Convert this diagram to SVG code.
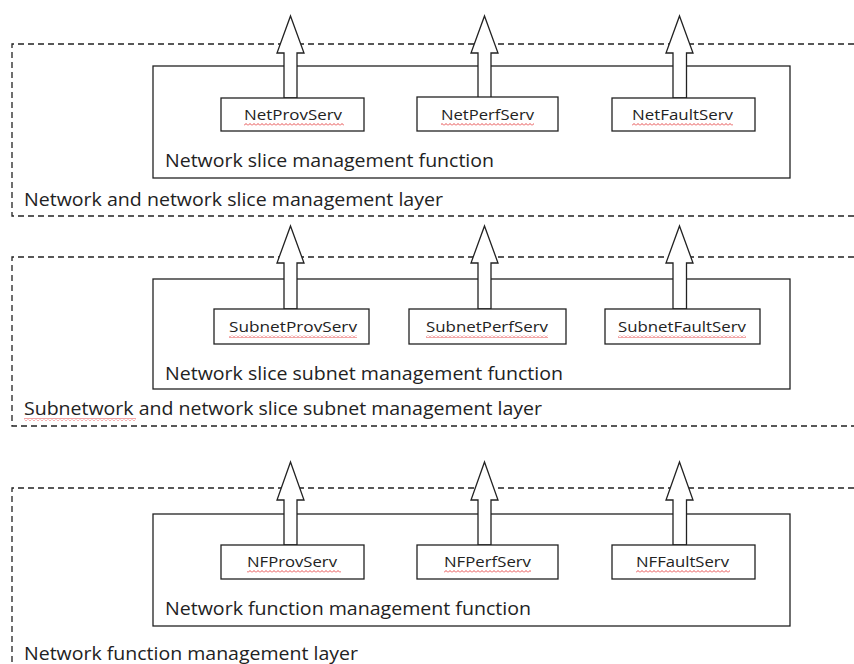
<svg xmlns="http://www.w3.org/2000/svg" width="854" height="664" viewBox="0 0 854 664">
<style>
.layer{fill:none;stroke:#222;stroke-width:1.3;stroke-dasharray:6 4}
.func{fill:#fff;stroke:#222;stroke-width:1.3}
.svc{fill:#fff;stroke:#222;stroke-width:1.3}
.arrow{fill:#fff;stroke:#222;stroke-width:1.3;stroke-linejoin:miter}
.big{font-family:"Open Sans","Noto Sans",sans-serif;font-size:17.5px;fill:#222}
.lbl{font-family:"Open Sans","Noto Sans",sans-serif;font-size:14.5px;fill:#222;text-anchor:middle}
.sq{fill:url(#squig)}
</style>
<defs>
<pattern id="squig" x="0" y="0" width="4" height="3" patternUnits="userSpaceOnUse">
<path d="M0,2.5 L2,0.5 L4,2.5" fill="none" stroke="#e02020" stroke-width="0.8"/>
</pattern>
</defs>
<rect width="854" height="664" fill="#fff"/>

<g id="layer-network">
<path class="layer" d="M854,44 H12 V216 H854"/>
<text class="big" x="24" y="206" textLength="419" lengthAdjust="spacingAndGlyphs">Network and network slice management layer</text>
</g>
<g id="nsmf">
<rect class="func" x="153" y="66" width="637" height="112"/>
<text class="big" x="165" y="167" textLength="329" lengthAdjust="spacingAndGlyphs">Network slice management function</text>
</g>

<g id="layer-subnet">
<path class="layer" d="M854,257 H12 V426 H854"/>
<text class="big" x="24" y="415" textLength="518" lengthAdjust="spacingAndGlyphs">Subnetwork and network slice subnet management layer</text>
</g>
<g id="nssmf">
<rect class="func" x="153" y="279" width="637" height="110"/>
<text class="big" x="165" y="380" textLength="398" lengthAdjust="spacingAndGlyphs">Network slice subnet management function</text>
</g>

<g id="layer-nf">
<path class="layer" d="M854,488 H12 V664"/>
<text class="big" x="24" y="660" textLength="334" lengthAdjust="spacingAndGlyphs">Network function management layer</text>
</g>
<g id="nfmf">
<rect class="func" x="153" y="514" width="637" height="112"/>
<text class="big" x="165" y="615" textLength="366" lengthAdjust="spacingAndGlyphs">Network function management function</text>
</g>

<g id="connectors">
<polygon class="arrow" points="290.5,16 304,53 297,53 297,98 284,98 284,53 277,53"/>
<polygon class="arrow" points="484.5,16 498,53 491,53 491,98 478,98 478,53 471,53"/>
<polygon class="arrow" points="679.5,16 693,53 686.5,53 686.5,98 673,98 673,53 666,53"/>
<polygon class="arrow" points="290.5,226 304,263 297,263 297,309 284,309 284,263 277,263"/>
<polygon class="arrow" points="484.5,226 498,263 491,263 491,309 478,309 478,263 471,263"/>
<polygon class="arrow" points="679.5,226 693,263 686.5,263 686.5,309 673,309 673,263 666,263"/>
<polygon class="arrow" points="290.5,462 304,500 297,500 297,545 284,545 284,500 277,500"/>
<polygon class="arrow" points="484.5,462 498,500 491,500 491,545 478,545 478,500 471,500"/>
<polygon class="arrow" points="679.5,462 693,500 686.5,500 686.5,545 673,545 673,500 666,500"/>
</g>

<g id="NetProvServ"><rect class="svc" x="221" y="98" width="143" height="33"/><text class="lbl" x="293" y="120" textLength="98" lengthAdjust="spacingAndGlyphs">NetProvServ</text></g>
<g id="NetPerfServ"><rect class="svc" x="417" y="97" width="141" height="34"/><text class="lbl" x="487.5" y="120" textLength="93" lengthAdjust="spacingAndGlyphs">NetPerfServ</text></g>
<g id="NetFaultServ"><rect class="svc" x="612" y="98" width="143" height="33"/><text class="lbl" x="682.5" y="120" textLength="101" lengthAdjust="spacingAndGlyphs">NetFaultServ</text></g>

<g id="SubnetProvServ"><rect class="svc" x="214" y="309" width="155" height="35"/><text class="lbl" x="293" y="332" textLength="128" lengthAdjust="spacingAndGlyphs">SubnetProvServ</text></g>
<g id="SubnetPerfServ"><rect class="svc" x="409" y="309" width="157" height="35"/><text class="lbl" x="487" y="332" textLength="122" lengthAdjust="spacingAndGlyphs">SubnetPerfServ</text></g>
<g id="SubnetFaultServ"><rect class="svc" x="605" y="309" width="155" height="35"/><text class="lbl" x="682" y="332" textLength="128" lengthAdjust="spacingAndGlyphs">SubnetFaultServ</text></g>

<g id="NFProvServ"><rect class="svc" x="221" y="545" width="143" height="34"/><text class="lbl" x="292" y="567" textLength="90" lengthAdjust="spacingAndGlyphs">NFProvServ</text></g>
<g id="NFPerfServ"><rect class="svc" x="417" y="545" width="141" height="34"/><text class="lbl" x="487.5" y="567" textLength="87" lengthAdjust="spacingAndGlyphs">NFPerfServ</text></g>
<g id="NFFaultServ"><rect class="svc" x="612" y="545" width="143" height="34"/><text class="lbl" x="682.5" y="567" textLength="93" lengthAdjust="spacingAndGlyphs">NFFaultServ</text></g>

<g id="spellcheck-underlines">
<rect class="sq" x="244" y="123" width="100" height="3"/>
<rect class="sq" x="441" y="123" width="93" height="3"/>
<rect class="sq" x="632" y="123" width="101" height="3"/>
<rect class="sq" x="229" y="335" width="128" height="3"/>
<rect class="sq" x="426" y="335" width="122" height="3"/>
<rect class="sq" x="618" y="335" width="128" height="3"/>
<rect class="sq" x="24" y="418" width="112" height="3"/>
<rect class="sq" x="247" y="570" width="94" height="3"/>
<rect class="sq" x="444" y="570" width="87" height="3"/>
<rect class="sq" x="636" y="570" width="94" height="3"/>
</g>
</svg>
